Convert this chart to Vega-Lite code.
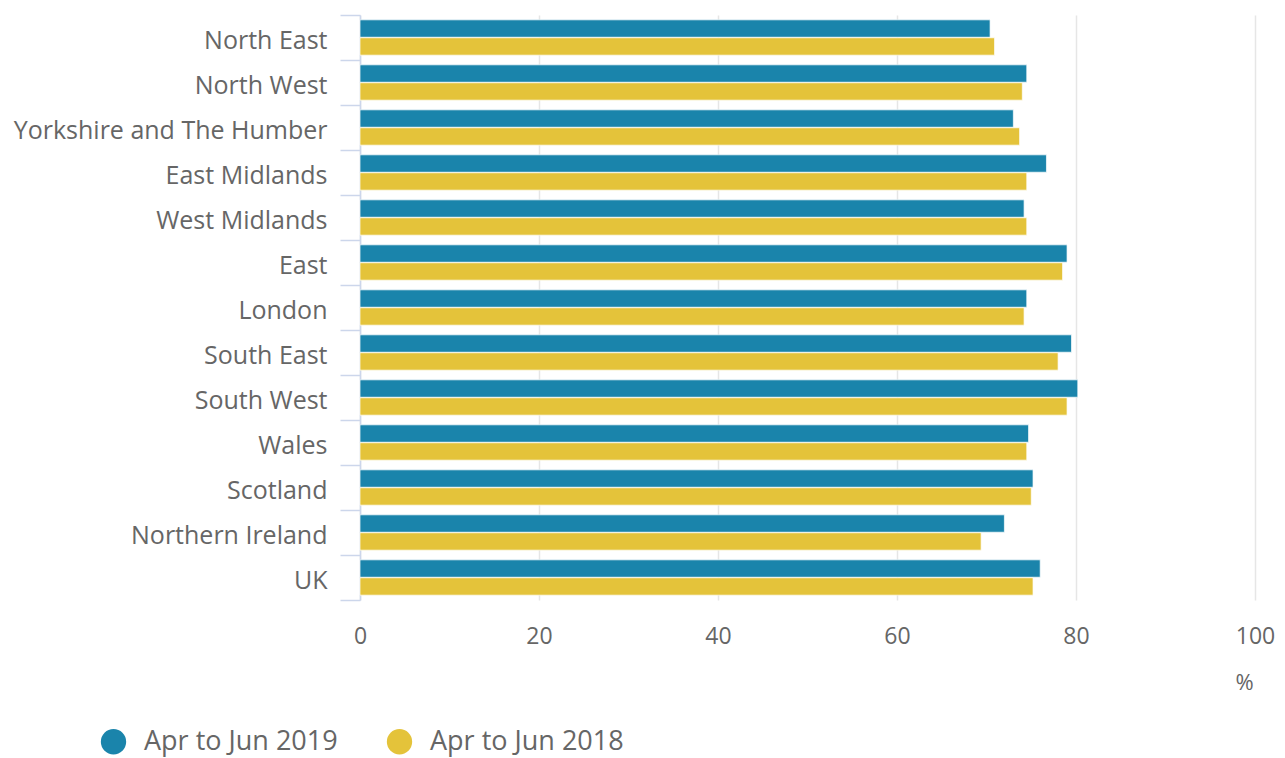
{
  "$schema": "https://vega.github.io/schema/vega-lite/v6.json",
  "autosize": "none",
  "width": 895,
  "height": 585,
  "padding": {"left": 360, "top": 15, "right": 30, "bottom": 158},
  "background": "white",
  "config": {
    "font": "Open Sans",
    "view": {"stroke": null}
  },
  "data": {
    "values": [
      {"region": "North East", "series": "Apr to Jun 2019", "rate": 70.4},
      {"region": "North East", "series": "Apr to Jun 2018", "rate": 70.9},
      {"region": "North West", "series": "Apr to Jun 2019", "rate": 74.5},
      {"region": "North West", "series": "Apr to Jun 2018", "rate": 74.0},
      {"region": "Yorkshire and The Humber", "series": "Apr to Jun 2019", "rate": 73.0},
      {"region": "Yorkshire and The Humber", "series": "Apr to Jun 2018", "rate": 73.7},
      {"region": "East Midlands", "series": "Apr to Jun 2019", "rate": 76.7},
      {"region": "East Midlands", "series": "Apr to Jun 2018", "rate": 74.5},
      {"region": "West Midlands", "series": "Apr to Jun 2019", "rate": 74.2},
      {"region": "West Midlands", "series": "Apr to Jun 2018", "rate": 74.5},
      {"region": "East", "series": "Apr to Jun 2019", "rate": 79.0},
      {"region": "East", "series": "Apr to Jun 2018", "rate": 78.5},
      {"region": "London", "series": "Apr to Jun 2019", "rate": 74.5},
      {"region": "London", "series": "Apr to Jun 2018", "rate": 74.2},
      {"region": "South East", "series": "Apr to Jun 2019", "rate": 79.5},
      {"region": "South East", "series": "Apr to Jun 2018", "rate": 78.0},
      {"region": "South West", "series": "Apr to Jun 2019", "rate": 80.2},
      {"region": "South West", "series": "Apr to Jun 2018", "rate": 79.0},
      {"region": "Wales", "series": "Apr to Jun 2019", "rate": 74.7},
      {"region": "Wales", "series": "Apr to Jun 2018", "rate": 74.5},
      {"region": "Scotland", "series": "Apr to Jun 2019", "rate": 75.2},
      {"region": "Scotland", "series": "Apr to Jun 2018", "rate": 75.0},
      {"region": "Northern Ireland", "series": "Apr to Jun 2019", "rate": 72.0},
      {"region": "Northern Ireland", "series": "Apr to Jun 2018", "rate": 69.4},
      {"region": "UK", "series": "Apr to Jun 2019", "rate": 76.0},
      {"region": "UK", "series": "Apr to Jun 2018", "rate": 75.2}
    ]
  },
  "mark": {"type": "bar", "stroke": "white", "strokeWidth": 0.7},
  "encoding": {
    "y": {
      "field": "region",
      "type": "nominal",
      "sort": null,
      "scale": {"paddingInner": 0, "paddingOuter": 0},
      "axis": {
        "title": null,
        "tickBand": "extent",
        "tickSize": 20,
        "tickColor": "#ccd6eb",
        "domainColor": "#ccd6eb",
        "domainWidth": 1.5,
        "tickWidth": 1.5,
        "labelFontSize": 25,
        "labelColor": "#666666",
        "labelPadding": 13,
        "labelOffset": 3,
        "labelLimit": 400,
        "labelFont": "Open Sans"
      }
    },
    "yOffset": {
      "field": "series",
      "type": "nominal",
      "sort": ["Apr to Jun 2019", "Apr to Jun 2018"],
      "scale": {"paddingOuter": 0.27, "paddingInner": 0.03}
    },
    "x": {
      "field": "rate",
      "type": "quantitative",
      "scale": {"domain": [0, 100], "nice": false},
      "axis": {
        "values": [0, 20, 40, 60, 80, 100],
        "title": "%",
        "titleFontSize": 22,
        "titleFontWeight": "normal",
        "titleColor": "#666666",
        "titleX": 884,
        "titleY": 82,
        "titleBaseline": "middle",
        "titleAlign": "center",
        "titleAnchor": null,
        "domain": false,
        "ticks": false,
        "grid": true,
        "gridColor": "#e6e6e6",
        "gridWidth": 1.5,
        "labelFontSize": 23,
        "labelColor": "#666666",
        "labelPadding": 25,
        "labelFlush": false
      }
    },
    "color": {
      "field": "series",
      "type": "nominal",
      "sort": ["Apr to Jun 2019", "Apr to Jun 2018"],
      "scale": {"domain": ["Apr to Jun 2019", "Apr to Jun 2018"], "range": ["#1a84ab", "#e4c33a"]},
      "legend": {
        "title": null,
        "orient": "none",
        "direction": "horizontal",
        "legendX": -260,
        "legendY": 713,
        "symbolType": "circle",
        "symbolSize": 640,
        "symbolStrokeWidth": 0,
        "labelFontSize": 27,
        "labelLimit": 400,
        "labelColor": "#666666",
        "labelOffset": 17,
        "columnPadding": 48
      }
    }
  }
}
